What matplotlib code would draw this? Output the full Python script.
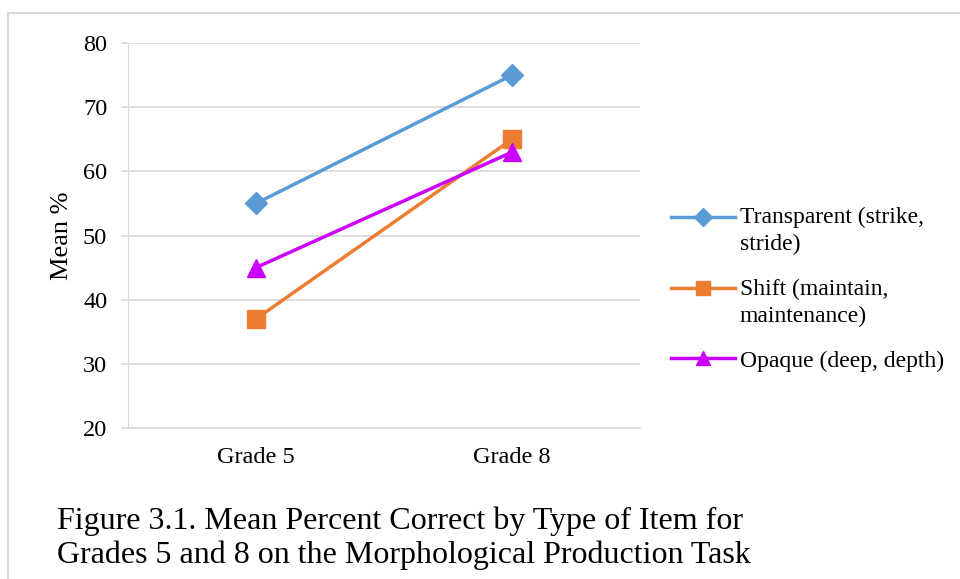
import matplotlib
matplotlib.use("Agg")
import matplotlib.pyplot as plt
from matplotlib.patches import Rectangle
from matplotlib.legend_handler import HandlerLine2D

plt.rcParams['font.family'] = ['Liberation Serif', 'DejaVu Serif']

grades = ["Grade 5", "Grade 8"]
transparent = [55, 75]
shift = [37, 65]
opaque = [45, 63]
labels = ["Transparent (strike,\nstride)", "Shift (maintain,\nmaintenance)", "Opaque (deep, depth)"]
y_ticks = [20, 30, 40, 50, 60, 70, 80]


class FirstLineHandler(HandlerLine2D):
    # put the legend handle beside the first line of a two-line label
    def __init__(self, up=0.0, **kw):
        super().__init__(**kw)
        self.up = up

    def create_artists(self, legend, orig_handle, xdescent, ydescent, width, height, fontsize, trans):
        return super().create_artists(legend, orig_handle, xdescent, ydescent - self.up * fontsize,
                                      width, height, fontsize, trans)


fig = plt.figure(figsize=(9.6, 5.79), dpi=100)
ax = fig.add_axes([0.1333, 0.2608, 0.5334, 0.6649])

# outer chart frame
fig.patches.append(Rectangle((0.008, -0.05), 1.1, 1.027, transform=fig.transFigure,
                             fill=False, edgecolor='#d9d9d9', linewidth=1.5))

x = [0.5, 1.5]
l1, = ax.plot(x, transparent, color='#5b9bd5', lw=2.5, marker='D', ms=11.5, label=labels[0], zorder=3)
l2, = ax.plot(x, shift, color='#ed7d31', lw=2.5, marker='s', ms=13, label=labels[1], zorder=3)
l3, = ax.plot(x, opaque, color='#cc00ff', lw=2.5, marker='^', ms=13, label=labels[2], zorder=3)

ax.set_xlim(0, 2)
ax.set_ylim(20, 80)
ax.set_yticks(y_ticks)
ax.set_xticks(x)
ax.set_xticklabels(grades)
ax.grid(axis='y', color='#d9d9d9', lw=1.2)
ax.set_axisbelow(True)
for s in ['top', 'right']:
    ax.spines[s].set_visible(False)
ax.spines['left'].set_color('#d9d9d9')
ax.spines['bottom'].set_color('#d9d9d9')
ax.spines['bottom'].set_linewidth(1.2)
ax.tick_params(axis='y', length=5, color='#d9d9d9', width=1.2, labelsize=17.5, pad=10)
ax.tick_params(axis='x', length=0, labelsize=17.5, pad=14)
ax.set_ylabel("Mean %", fontsize=19, labelpad=7)

up = FirstLineHandler(up=1.2, numpoints=1)
leg = ax.legend(handles=[l1, l2, l3], loc='center left', bbox_to_anchor=(1.0195, 0.36), frameon=False,
                fontsize=17, handlelength=2.7, labelspacing=1.0, handletextpad=0.2, markerscale=0.8,
                handler_map={l1: up, l2: up, l3: HandlerLine2D(numpoints=1)})
for t in leg.get_texts():
    t.set_linespacing(1.35)

fig.text(0.059, 0.071, "Figure 3.1. Mean Percent Correct by Type of Item for\nGrades 5 and 8 on the Morphological Production Task",
         fontsize=23, ha='left', va='center', linespacing=1.2)

fig.savefig("out.png", dpi=100)
